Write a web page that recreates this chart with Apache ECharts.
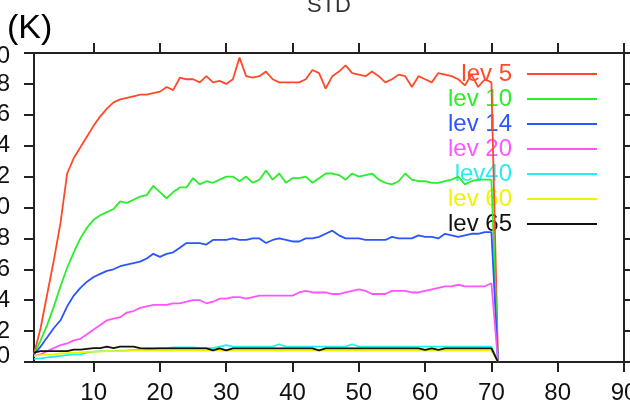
<!DOCTYPE html>
<html>
<head>
<meta charset="utf-8">
<script src="https://cdn.jsdelivr.net/npm/echarts@6/dist/echarts.min.js"></script>
<style>
  html, body { margin: 0; padding: 0; background: #fff; }
  #chart { width: 630px; height: 406px; }
</style>
</head>
<body>
<div id="chart"></div>
<script>
// Time steps (x) shared by every level
const steps = [
  1, 2, 3, 4, 5, 6, 7, 8, 9, 10, 11, 12, 13, 14, 15, 16, 17, 18, 19, 20,
  21, 22, 23, 24, 25, 26, 27, 28, 29, 30, 31, 32, 33, 34, 35, 36, 37, 38, 39, 40,
  41, 42, 43, 44, 45, 46, 47, 48, 49, 50, 51, 52, 53, 54, 55, 56, 57, 58, 59, 60,
  61, 62, 63, 64, 65, 66, 67, 68, 69, 70, 71
];

// Standard deviation (K) per level
const lev5 = [
  0.05, 0.22, 0.44, 0.66, 0.90, 1.22, 1.32, 1.39, 1.46, 1.53, 1.59, 1.64, 1.68, 1.70, 1.71, 1.72, 1.73, 1.73, 1.74, 1.75,
  1.78, 1.76, 1.84, 1.83, 1.83, 1.81, 1.85, 1.81, 1.82, 1.80, 1.83, 1.97, 1.85, 1.84, 1.85, 1.88, 1.83, 1.81, 1.81, 1.81,
  1.81, 1.83, 1.89, 1.87, 1.77, 1.85, 1.88, 1.92, 1.87, 1.86, 1.85, 1.88, 1.85, 1.81, 1.83, 1.86, 1.85, 1.78, 1.85, 1.83,
  1.81, 1.87, 1.86, 1.85, 1.83, 1.79, 1.86, 1.78, 1.83, 1.81, 0
];
const lev10 = [
  0.05, 0.14, 0.24, 0.36, 0.49, 0.61, 0.71, 0.80, 0.87, 0.92, 0.95, 0.97, 0.99, 1.04, 1.03, 1.05, 1.07, 1.08, 1.14, 1.10,
  1.06, 1.10, 1.13, 1.13, 1.19, 1.15, 1.17, 1.16, 1.18, 1.20, 1.20, 1.17, 1.20, 1.16, 1.18, 1.24, 1.18, 1.22, 1.16, 1.19,
  1.19, 1.20, 1.16, 1.19, 1.22, 1.22, 1.21, 1.18, 1.22, 1.20, 1.21, 1.22, 1.18, 1.16, 1.15, 1.17, 1.22, 1.18, 1.17, 1.17,
  1.16, 1.16, 1.17, 1.18, 1.20, 1.15, 1.17, 1.18, 1.18, 1.18, 0
];
const lev14 = [
  0.05, 0.10, 0.16, 0.22, 0.27, 0.36, 0.43, 0.48, 0.52, 0.55, 0.57, 0.59, 0.60, 0.62, 0.63, 0.64, 0.65, 0.67, 0.70, 0.68,
  0.70, 0.71, 0.74, 0.77, 0.77, 0.77, 0.76, 0.79, 0.79, 0.79, 0.80, 0.79, 0.79, 0.80, 0.80, 0.77, 0.79, 0.80, 0.79, 0.78,
  0.78, 0.80, 0.80, 0.81, 0.83, 0.85, 0.82, 0.80, 0.80, 0.80, 0.79, 0.79, 0.79, 0.79, 0.81, 0.80, 0.80, 0.80, 0.82, 0.81,
  0.81, 0.80, 0.83, 0.82, 0.81, 0.82, 0.83, 0.83, 0.84, 0.84, 0
];
const lev20 = [
  0.04, 0.05, 0.07, 0.09, 0.11, 0.12, 0.14, 0.15, 0.18, 0.21, 0.24, 0.27, 0.28, 0.29, 0.32, 0.33, 0.35, 0.36, 0.37, 0.37,
  0.37, 0.38, 0.38, 0.39, 0.40, 0.40, 0.38, 0.39, 0.41, 0.41, 0.42, 0.42, 0.41, 0.42, 0.43, 0.43, 0.43, 0.43, 0.43, 0.43,
  0.45, 0.46, 0.45, 0.45, 0.45, 0.44, 0.44, 0.45, 0.46, 0.47, 0.46, 0.44, 0.44, 0.44, 0.46, 0.46, 0.46, 0.45, 0.45, 0.46,
  0.47, 0.48, 0.49, 0.49, 0.50, 0.49, 0.49, 0.49, 0.49, 0.51, 0
];
const lev40 = [
  0.020, 0.024, 0.030, 0.034, 0.040, 0.045, 0.050, 0.050, 0.060, 0.067, 0.070, 0.070, 0.070, 0.073, 0.075, 0.078, 0.080, 0.080, 0.085, 0.090,
  0.090, 0.095, 0.095, 0.095, 0.095, 0.092, 0.090, 0.090, 0.100, 0.110, 0.100, 0.100, 0.100, 0.100, 0.100, 0.100, 0.100, 0.115, 0.100, 0.100,
  0.100, 0.100, 0.100, 0.100, 0.100, 0.100, 0.100, 0.100, 0.115, 0.100, 0.100, 0.100, 0.100, 0.100, 0.100, 0.100, 0.100, 0.100, 0.100, 0.100,
  0.100, 0.100, 0.100, 0.100, 0.100, 0.100, 0.100, 0.100, 0.100, 0.100, 0
];
const lev60 = [
  0.040, 0.045, 0.048, 0.050, 0.055, 0.058, 0.060, 0.062, 0.065, 0.067, 0.068, 0.070, 0.070, 0.071, 0.072, 0.073, 0.073, 0.073, 0.073, 0.073,
  0.073, 0.073, 0.073, 0.073, 0.073, 0.073, 0.073, 0.073, 0.073, 0.073, 0.073, 0.073, 0.073, 0.073, 0.073, 0.073, 0.073, 0.073, 0.073, 0.073,
  0.073, 0.073, 0.073, 0.073, 0.073, 0.073, 0.073, 0.073, 0.073, 0.073, 0.073, 0.073, 0.073, 0.073, 0.073, 0.073, 0.073, 0.073, 0.073, 0.073,
  0.073, 0.073, 0.073, 0.073, 0.073, 0.073, 0.073, 0.073, 0.073, 0.073, 0
];
const lev65 = [
  0.060, 0.070, 0.070, 0.070, 0.070, 0.070, 0.080, 0.080, 0.085, 0.090, 0.090, 0.100, 0.090, 0.100, 0.100, 0.100, 0.090, 0.088, 0.088, 0.088,
  0.088, 0.088, 0.088, 0.088, 0.088, 0.088, 0.088, 0.075, 0.088, 0.075, 0.088, 0.088, 0.088, 0.088, 0.088, 0.088, 0.088, 0.088, 0.088, 0.088,
  0.088, 0.088, 0.088, 0.075, 0.088, 0.088, 0.088, 0.088, 0.088, 0.088, 0.088, 0.088, 0.088, 0.088, 0.088, 0.088, 0.088, 0.088, 0.088, 0.078,
  0.088, 0.078, 0.088, 0.088, 0.088, 0.088, 0.088, 0.088, 0.088, 0.088, 0
];

const levelNames = ['lev 5', 'lev 10', 'lev 14', 'lev 20', 'lev40', 'lev 60', 'lev 65'];
const levelData = [lev5, lev10, lev14, lev20, lev40, lev60, lev65];
const levelColors = ['#ff4a2a', '#2aee2a', '#2a55ff', '#ff55ff', '#22f0f0', '#f2f200', '#111111'];

const xTicks = [10, 20, 30, 40, 50, 60, 70, 80, 90];

const FONT = '"Liberation Sans", Arial, Helvetica, sans-serif';
const AXIS_COLOR = '#222';
const LABEL_SIZE = 24;

const chart = echarts.init(document.getElementById('chart'), null, { renderer: 'canvas' });

const axisLine = { show: true, onZero: false, lineStyle: { color: AXIS_COLOR, width: 2 } };
const axisTick = (vals) => ({
  show: true, inside: false, length: 10,
  customValues: vals,
  lineStyle: { color: AXIS_COLOR, width: 2 }
});

chart.setOption({
  animation: false,
  backgroundColor: '#fff',
  grid: { left: 34, right: 6, top: 53, bottom: 44, containLabel: false, outerBoundsMode: 'none' },
  graphic: [
    {
      type: 'text', x: 329, y: 6,
      style: { text: 'STD', fill: '#333', font: '22px ' + FONT, align: 'center', verticalAlign: 'middle' }
    },
    {
      type: 'text', x: 7, y: 29,
      style: { text: '(K)', fill: '#000', font: '34px ' + FONT, align: 'left', verticalAlign: 'middle' }
    }
  ],
  legend: {
    orient: 'vertical',
    right: 33,
    top: 62,
    align: 'right',
    padding: 0,
    itemWidth: 70,
    itemHeight: 2,
    itemGap: 1,
    icon: 'rect',
    z: 1,
    textStyle: { fontSize: LABEL_SIZE, fontFamily: FONT, lineHeight: 24, padding: [0, 10, 0, 0] },
    data: levelNames.map((n, i) => ({ name: n, textStyle: { color: levelColors[i] } }))
  },
  xAxis: [
    {
      type: 'value', position: 'bottom', min: 1, max: 90,
      axisLine, axisTick: axisTick(xTicks),
      axisLabel: { customValues: xTicks, fontSize: LABEL_SIZE, fontFamily: FONT, color: '#111', margin: 19 },
      splitLine: { show: false }
    },
    {
      type: 'value', position: 'top', min: 1, max: 90,
      axisLine, axisTick: axisTick(xTicks),
      axisLabel: { show: false },
      splitLine: { show: false }
    }
  ],
  yAxis: [
    {
      type: 'value', position: 'left', min: 0, max: 2, interval: 0.2,
      axisLine, axisTick: { show: true, length: 10, lineStyle: { color: AXIS_COLOR, width: 2 } },
      axisLabel: {
        fontSize: LABEL_SIZE, fontFamily: FONT, color: '#111', margin: 24,
        formatter: (v) => {
          const t = v.toFixed(1);
          if (v === 0) return '{lo|' + t + '}';
          if (v === 2) return '{hi|' + t + '}';
          return t;
        },
        rich: {
          lo: { fontSize: LABEL_SIZE, fontFamily: FONT, color: '#111', padding: [0, 0, 12, 0] },
          hi: { fontSize: LABEL_SIZE, fontFamily: FONT, color: '#111', padding: [6, 0, 0, 0] }
        }
      },
      splitLine: { show: false }
    },
    {
      type: 'value', position: 'right', min: 0, max: 2, interval: 0.2,
      axisLine, axisTick: { show: true, length: 10, lineStyle: { color: AXIS_COLOR, width: 2 } },
      axisLabel: { show: false },
      splitLine: { show: false }
    }
  ],
  series: levelNames.map((name, i) => ({
    name,
    type: 'line',
    xAxisIndex: 0,
    yAxisIndex: 0,
    showSymbol: false,
    symbol: 'none',
    smooth: false,
    z: 2 + i,
    color: levelColors[i],
    lineStyle: { color: levelColors[i], width: 1.8 },
    data: steps.map((s, k) => [s, levelData[i][k]])
  }))
});
</script>
</body>
</html>
